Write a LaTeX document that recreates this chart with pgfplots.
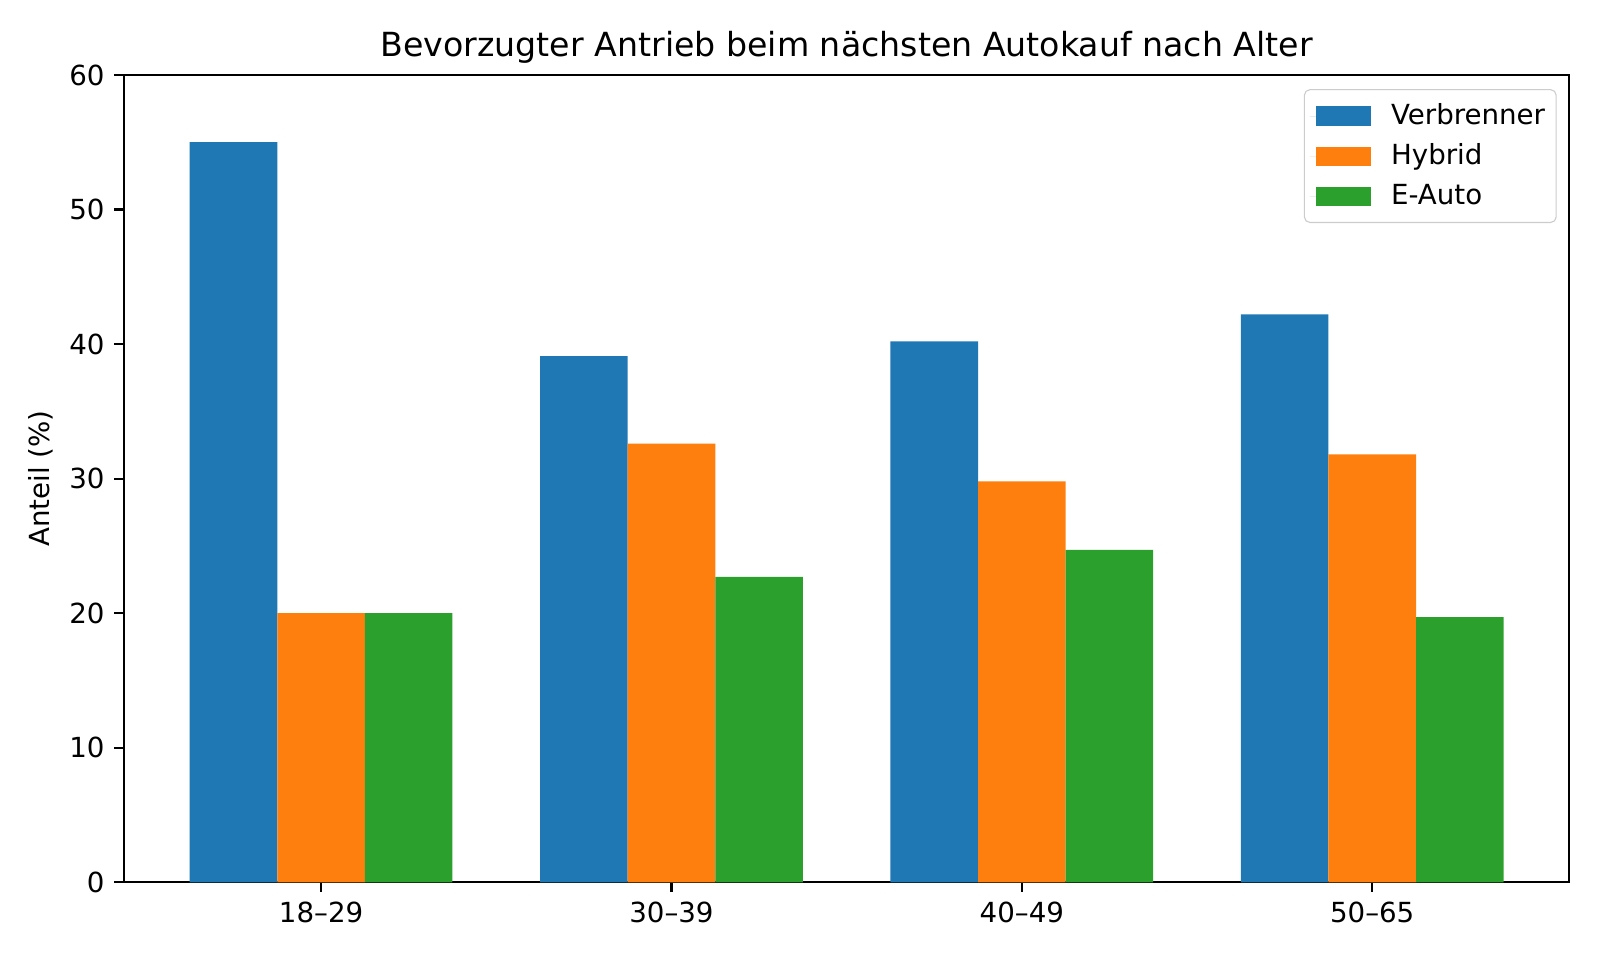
\documentclass[border=0pt]{standalone}
\usepackage{fontspec}
\setmainfont{DejaVu Sans}
\usepackage{pgfplots}
\pgfplotsset{compat=1.18}
\usepackage{pgfplotstable}
\definecolor{cA}{HTML}{1F77B4}
\definecolor{cB}{HTML}{FF7F0E}
\definecolor{cC}{HTML}{2CA02C}
\pgfplotstableread{
x v h e
0 55.0 20.0 20.0
1 39.1 32.6 22.7
2 40.2 29.8 24.7
3 42.2 31.8 19.7
}\data
\begin{document}
\begin{tikzpicture}
\path[use as bounding box] (0,0) rectangle (203.2mm,121.92mm);
\begin{axis}[
  at={(15.75mm,9.87mm)}, anchor=south west,
  scale only axis,
  width=183.55mm, height=102.53mm,
  xmin=-0.5625, xmax=3.5625,
  ymin=0, ymax=60,
  ytick={0,10,20,30,40,50,60},
  xtick={0,1,2,3},
  xticklabels={18–29,30–39,40–49,50–65},
  ybar=0pt, bar width=0.25,
  axis line style={line width=0.8pt},
  tick style={line width=0.8pt, black},
  tick align=outside,
  major tick length=3.5pt,
  xtick pos=bottom, ytick pos=left,
  /pgf/number format/assume math mode=true,
  ticklabel style={font=\fontsize{10}{12}\selectfont},
  title={Bevorzugter Antrieb beim nächsten Autokauf nach Alter},
  title style={font=\fontsize{12}{14}\selectfont, yshift=-5.5pt},
  ylabel={Anteil (\%)},
  ylabel shift=-1pt,
  ylabel style={font=\fontsize{10}{12}\selectfont},
  legend cell align=left,
  legend style={at={(1,1)}, anchor=north east, xshift=-1.6mm, yshift=-1.8mm,
    draw=black!20, rounded corners=2pt, fill=white,
    font=\fontsize{10}{12}\selectfont, row sep=1.5pt, column sep=1.8mm,
    inner xsep=2pt, inner ysep=3pt},
  legend image code/.code={\path (-0.8mm,0) -- (0,0);\fill[#1, sharp corners] (0mm,-1.25mm) rectangle (7mm,1.25mm);},
]
\addplot[fill=cA, draw=none] table[x=x, y=v] {\data};
\addplot[fill=cB, draw=none] table[x=x, y=h] {\data};
\addplot[fill=cC, draw=none] table[x=x, y=e] {\data};
\legend{Verbrenner, Hybrid, E-Auto}
\end{axis}
\end{tikzpicture}
\end{document}
